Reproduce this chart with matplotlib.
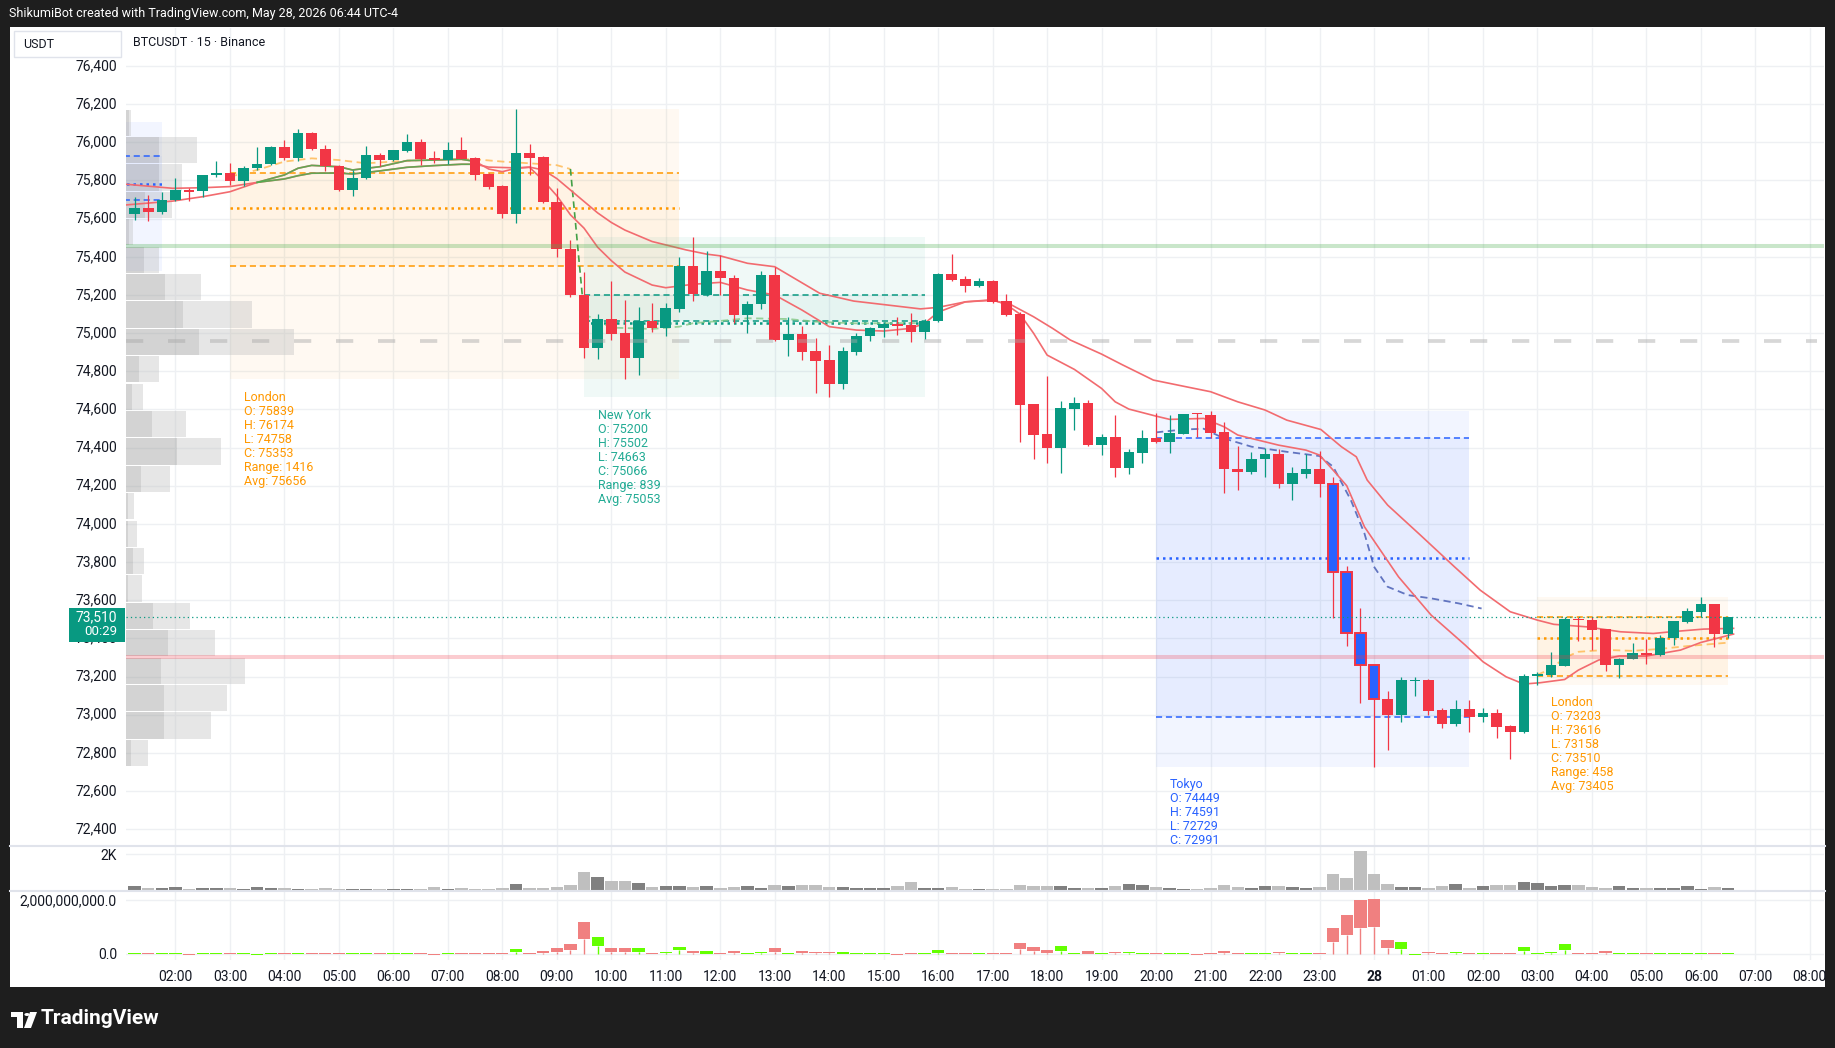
import numpy as np
import matplotlib.pyplot as plt
import matplotlib.transforms as mtransforms
from matplotlib.patches import Rectangle, Polygon, Circle
from matplotlib.lines import Line2D

plt.rcParams['font.family'] = ['Roboto', 'DejaVu Sans']

W, H = 1835, 1048

# ---- 15m candles, bar 0 = 01:15 (May 27) ... bar 117 = 06:30 (May 28)
opens = [75626, 75658, 75633, 75696, 75752, 75743, 75827, 75841, 75796, 75864,
         75884, 75977, 75916, 76050, 75966, 75877, 75752, 75811, 75935, 75909,
         75956, 76003, 75919, 75909, 75961, 75919, 75836, 75773, 75626, 75946,
         75923, 75689, 75439, 75200, 74924, 75072, 75001, 74871, 75064, 75029,
         75128, 75352, 75200, 75326, 75289, 75097, 75151, 75305, 74966, 74996,
         74906, 74859, 74735, 74903, 74985, 75025, 75046, 75043, 75008, 75065,
         75311, 75283, 75247, 75273, 75168, 75100, 74628, 74471, 74399, 74603,
         74633, 74415, 74455, 74294, 74373, 74450, 74431, 74474, 74577, 74572,
         74483, 74287, 74270, 74343, 74366, 74212, 74263, 74288, 74211, 73746,
         73426, 73259, 73081, 73000, 73179, 73182, 73025, 72953, 73028, 72990,
         73009, 72941, 72911, 73203, 73208, 73257, 73502, 73496, 73449, 73262,
         73292, 73323, 73315, 73404, 73486, 73540, 73580, 73425]
highs = [75715, 75726, 75741, 75815, 75760, 75830, 75904, 75893, 75874, 75977,
         75982, 76014, 76071, 76055, 75987, 75880, 75853, 75982, 75946, 75961,
         76045, 76019, 75956, 76003, 76029, 75922, 75840, 75778, 76176, 75993,
         75930, 75760, 75488, 75319, 75100, 75273, 75174, 75137, 75158, 75158,
         75399, 75504, 75431, 75410, 75305, 75168, 75326, 75347, 75085, 75037,
         74973, 74938, 74926, 75001, 75034, 75050, 75083, 75104, 75075, 75316,
         75414, 75300, 75290, 75280, 75205, 75112, 74630, 74775, 74644, 74663,
         74649, 74473, 74570, 74394, 74492, 74583, 74569, 74577, 74580, 74591,
         74532, 74408, 74375, 74396, 74392, 74298, 74364, 74382, 74247, 73781,
         73559, 73259, 73124, 73199, 73199, 73185, 73037, 73077, 73077, 73033,
         73030, 72946, 73212, 73222, 73329, 73510, 73510, 73510, 73452, 73300,
         73376, 73395, 73416, 73491, 73559, 73616, 73582, 73512]
lows = [75595, 75590, 75625, 75690, 75694, 75714, 75820, 75775, 75769, 75855,
        75880, 75905, 75900, 75960, 75848, 75743, 75717, 75808, 75874, 75900,
        75951, 75883, 75893, 75888, 75912, 75804, 75757, 75605, 75579, 75830,
        75680, 75401, 75190, 74871, 74866, 74966, 74761, 74781, 75004, 74987,
        75113, 75170, 75196, 75200, 75055, 75002, 75125, 74961, 74880, 74861,
        74688, 74667, 74709, 74887, 74961, 74978, 74989, 74955, 74968, 75060,
        75273, 75215, 75243, 75160, 75090, 74429, 74342, 74321, 74265, 74492,
        74410, 74363, 74247, 74263, 74317, 74422, 74370, 74470, 74457, 74448,
        74160, 74176, 74260, 74247, 74186, 74128, 74242, 74143, 73505, 73362,
        73063, 72729, 72815, 72960, 73100, 72997, 72929, 72940, 72911, 72964,
        72880, 72766, 72905, 73158, 73199, 73255, 73386, 73339, 73231, 73194,
        73290, 73264, 73310, 73365, 73483, 73510, 73353, 73400]
closes = [75658, 75633, 75700, 75752, 75741, 75830, 75841, 75796, 75867, 75888,
          75977, 75916, 76050, 75963, 75874, 75752, 75815, 75935, 75909, 75961,
          76003, 75914, 75909, 75961, 75914, 75830, 75768, 75626, 75946, 75919,
          75685, 75439, 75198, 74924, 75072, 74997, 74871, 75064, 75029, 75130,
          75352, 75203, 75326, 75287, 75097, 75151, 75305, 74964, 74996, 74903,
          74856, 74735, 74906, 74985, 75029, 75048, 75039, 75008, 75066, 75311,
          75278, 75247, 75273, 75164, 75096, 74625, 74467, 74399, 74607, 74633,
          74415, 74455, 74294, 74377, 74450, 74429, 74478, 74577, 74574, 74478,
          74286, 74270, 74343, 74366, 74212, 74266, 74288, 74211, 73746, 73426,
          73259, 73081, 73000, 73182, 73182, 73021, 72953, 73028, 72991, 73009,
          72937, 72911, 73203, 73213, 73260, 73502, 73496, 73444, 73262, 73292,
          73323, 73313, 73404, 73491, 73543, 73580, 73425, 73510]
highlight_bars = [88, 89, 90, 91]

volumes = [272, 163, 163, 218, 109, 163, 163, 163, 109, 218,
           163, 163, 109, 109, 163, 109, 109, 109, 109, 109,
           109, 109, 218, 109, 163, 109, 109, 163, 381, 163,
           163, 218, 327, 1035, 763, 545, 545, 436, 218, 272,
           272, 218, 272, 163, 218, 272, 163, 327, 272, 327,
           327, 218, 218, 163, 163, 163, 272, 490, 163, 163,
           218, 109, 109, 109, 109, 327, 272, 272, 272, 163,
           163, 163, 272, 381, 327, 218, 163, 109, 109, 163,
           327, 218, 163, 272, 272, 218, 163, 218, 926, 708,
           2179, 926, 381, 218, 218, 163, 272, 381, 163, 272,
           327, 327, 490, 436, 272, 327, 327, 218, 163, 272,
           163, 163, 163, 163, 272, 109, 218, 163]

# third pane (USD volume candles), body low / high in millions
usd_lo = [0, 0, 0, 0, -35, 0, 0, 0, 0, -35,
          0, 0, 0, 0, 0, 0, 0, 0, 0, 0,
          0, 0, -35, 0, 0, 0, 0, 0, 62, 0,
          25, 50, 137, 550, 300, 62, 62, 62, 0, 25,
          125, 25, 0, 0, 25, 0, 37, 62, 0, 37,
          25, 25, 0, 0, 0, 0, -35, 0, 0, 25,
          0, 0, 0, 0, 0, 175, 100, 37, 100, 0,
          0, 0, 25, 25, 0, 0, 0, 0, -35, 0,
          25, 0, 0, 0, 25, 0, 0, 0, 437, 700,
          962, 1012, 212, 175, -35, 25, 0, 25, 0, 0,
          0, 0, 100, 0, 25, 137, 0, 0, 25, 0,
          0, 0, 0, 0, 0, 0, 0, 0]
usd_hi = [35, 35, 35, 35, 0, 35, 35, 35, 35, 0,
          35, 35, 35, 35, 35, 35, 35, 35, 35, 35,
          35, 35, 0, 35, 35, 35, 35, 35, 187, 35,
          100, 212, 362, 1187, 625, 212, 212, 212, 35, 62,
          250, 100, 100, 35, 100, 35, 62, 212, 35, 100,
          62, 62, 62, 35, 35, 35, 0, 35, 35, 137,
          35, 35, 35, 35, 35, 400, 250, 137, 287, 35,
          100, 35, 62, 62, 35, 35, 35, 35, 0, 37,
          100, 35, 35, 35, 62, 35, 35, 35, 962, 1450,
          2012, 2050, 512, 437, 0, 62, 35, 62, 35, 35,
          35, 35, 250, 35, 62, 362, 35, 35, 100, 35,
          35, 35, 35, 35, 35, 35, 35, 35]

# moving averages read at sample bars
ema_fast_bar = [-0.6, 2.8, 5, 7, 9, 11, 12, 13, 15, 16, 18, 20, 22, 24, 25, 26, 27, 28, 29,
                30, 31, 32, 33, 34, 35, 36, 38, 39, 41, 43, 45, 47, 49, 51, 53, 55, 57, 58,
                59, 61, 63, 64, 65, 66, 67, 69, 71, 72, 73, 75, 76, 78.5, 80, 81, 82, 84,
                86, 87, 88, 89, 90.3, 92.8, 95.2, 97.7, 99, 100.7, 102, 103.2, 105, 106,
                107.5, 109, 111, 113.5, 115, 117.4]
ema_fast_val = [75672, 75692, 75715, 75741, 75790, 75829, 75864, 75879, 75872, 75855, 75872,
                75904, 75907, 75911, 75900, 75860, 75846, 75864, 75869, 75800, 75720, 75620,
                75550, 75450, 75380, 75320, 75252, 75238, 75256, 75266, 75226, 75200, 75121,
                75034, 75016, 75011, 75025, 75051, 75110, 75164, 75175, 75150, 75100, 75000,
                74885, 74810, 74710, 74640, 74602, 74565, 74548, 74553, 74509, 74466, 74448,
                74413, 74387, 74361, 74282, 74200, 73985, 73723, 73522, 73365, 73278, 73199,
                73161, 73168, 73185, 73234, 73287, 73308, 73308, 73339, 73379, 73423]
ema_slow_bar = [-0.6, 2.8, 5, 7, 9, 11, 12, 13, 15, 16, 18, 20, 22, 24, 25, 26, 28, 29, 30,
                31, 32, 33, 34, 35, 36, 38, 40.5, 42, 43, 45, 47, 50.3, 52.8, 55.2, 57.7, 59,
                61, 63, 64.4, 66, 67.4, 68.7, 71, 72.5, 74.8, 77.2, 79, 81, 83, 84.6, 87.1,
                88.6, 89.7, 90.5, 92, 94.4, 96.9, 98.8, 101, 103, 104.2, 106.6, 109.1, 111.5,
                112.8, 115.2, 117.4]
ema_slow_val = [75780, 75759, 75762, 75768, 75790, 75808, 75825, 75838, 75839, 75834, 75850,
                75869, 75878, 75885, 75885, 75870, 75866, 75870, 75855, 75810, 75750, 75690,
                75630, 75580, 75540, 75480, 75436, 75414, 75405, 75366, 75348, 75209, 75168,
                75148, 75127, 75135, 75164, 75172, 75147, 75086, 75025, 74964, 74890, 74835,
                74754, 74719, 74693, 74640, 74597, 74544, 74495, 74405, 74352, 74230, 74099,
                73942, 73776, 73653, 73540, 73496, 73474, 73461, 73435, 73426, 73435, 73449,
                73453]
ema_green_from, ema_green_to = 8.9, 25.7

# session running average (dashed curves)
vwap_lon1_bar = [7, 9, 11, 13, 15, 17, 19, 21, 23, 25, 27, 29, 31, 32]
vwap_lon1_val = [75820, 75855, 75899, 75916, 75907, 75890, 75899, 75907, 75911, 75911,
                 75899, 75890, 75880, 75860]
vwap_ny_bar = [32, 33, 35, 38, 40, 41, 43, 45, 48, 50, 53, 58]
vwap_ny_val = [75860, 75100, 75029, 75022, 75034, 75052, 75064, 75078, 75074, 75060,
               75051, 75053]
vwap_tok_bar = [75, 77, 78.5, 80, 82, 84.6, 87, 88, 89.3, 90.3, 91, 92, 93.5, 95.2, 97.2, 98.9]
vwap_tok_val = [74480, 74495, 74499, 74448, 74405, 74378, 74356, 74300, 74125, 73950,
                73776, 73671, 73627, 73610, 73584, 73557]
vwap_lon2_bar = [103, 104, 105, 106, 108, 110, 112, 114, 117]
vwap_lon2_val = [73210, 73240, 73300, 73330, 73340, 73335, 73345, 73360, 73378]

# sessions: name, first bar, last bar, open, high, low, close, avg
sessions = [
    ('London', 7, 40, 75839, 76174, 74758, 75353, 75656, '#ff9800', True),
    ('New York', 33, 58, 75200, 75502, 74663, 75066, 75053, '#089981', True),
    ('Tokyo', 75, 98, 74449, 74591, 72729, 72991, 73822, '#2962ff', True),
    ('London', 103, 117, 73203, 73616, 73158, 73510, 73405, '#ff9800', True),
    ('Tokyo', -3, 2, 75927, 76109, 75323, 75696, 75782, '#2962ff', False),
]
session_alpha = {'#ff9800': (0.05, 0.055), '#089981': (0.06, 0.045), '#2962ff': (0.06, 0.055)}
session_text_color = {'#ff9800': '#ff9800', '#089981': '#22ab94', '#2962ff': '#2962ff'}

# visible range volume profile, 24 rows top -> bottom
vp_total = [4.5, 70.7, 55.7, 45.7, 6.7, 33, 75, 125.8, 168, 33, 16.8, 60,
            95, 44, 8, 11, 18, 16, 64, 89, 119, 100.8, 85, 22]
vp_dark = [3, 33, 33, 19, 3.3, 18, 39, 57, 73, 12.8, 6, 25.8,
           50.8, 15, 2, 2, 7, 2, 27, 41.8, 35, 37.8, 37.8, 4.8]
vp_low, vp_high = 72729, 76174

# horizontal levels
level_green = 75455
level_pink = 73305
level_gray = 74960
last_price = 73510

price_ticks = list(range(72400, 76401, 200))
hour_ticks = [3 + 4 * k for k in range(31)]
hour_labels = [f'{h:02d}:00' for h in range(2, 24)] + ['28'] + [f'{h:02d}:00' for h in range(1, 9)]

UP, DOWN = '#089981', '#f23645'
TXT = '#131722'
GRID = '#eef0f3'


def fx(px):
    return px / W


def fy(py):
    return 1 - py / H


fig = plt.figure(figsize=(W / 100, H / 100), dpi=100, facecolor='#1e1e1e')
fig.add_artist(Rectangle((fx(10), fy(987)), fx(1825) - fx(10), (987 - 27) / H,
                         transform=fig.transFigure, fc='white', ec='none', zorder=-10))

x0, x1 = -0.631, 124.04
aw = fx(1824) - fx(126)
ax1 = fig.add_axes([fx(126), fy(846), aw, (846 - 28) / H])
ax2 = fig.add_axes([fx(126), fy(891), aw, 45 / H])
ax3 = fig.add_axes([fx(126), fy(960), aw, 69 / H])

for a in (ax1, ax2, ax3):
    a.set_xlim(x0, x1)
    a.set_facecolor('none')
    for s in a.spines.values():
        s.set_visible(False)
    a.set_xticks(hour_ticks)
    a.grid(True, color=GRID, lw=1.0, zorder=0)
    a.set_axisbelow(True)
    a.tick_params(length=0, labelsize=10, colors=TXT, pad=6.5)
    a.tick_params(axis='x', labelbottom=False)

ax1.set_ylim(72312.4, 76599)
ax1.set_yticks(price_ticks, [f'{p:,}' for p in price_ticks])
# price labels sit slightly above their grid lines
lift = mtransforms.ScaledTranslation(0, 1.5 / 100, fig.dpi_scale_trans)
for lab in ax1.get_yticklabels():
    lab.set_transform(lab.get_transform() + lift)
ax2.set_ylim(0, 2452)
ax2.set_yticks([2000], ['2K'])
ax3.set_ylim(-0.236e9, 2.348e9)
ax3.set_yticks([0, 2e9], ['0.0', '2,000,000,000.0'])
ax3.tick_params(axis='x', labelbottom=True, pad=7, labelsize=10)
ax3.set_xticklabels(hour_labels)
for lab in ax3.get_xticklabels():
    if lab.get_text() == '28':
        lab.set_fontweight('bold')

o = np.array(opens, float)
h = np.array(highs, float)
l = np.array(lows, float)
c = np.array(closes, float)
n = len(o)
x = np.arange(n)
up = c >= o

# ---- sessions
for name, j0, j1, so, sh, sl, sc, savg, col, labelled in sessions:
    a1, a2 = session_alpha[col]
    ax1.add_patch(Rectangle((j0, sl), j1 - j0, sh - sl, fc=col, alpha=a1, lw=0, zorder=1))
    ax1.add_patch(Rectangle((j0, min(so, sc)), j1 - j0, abs(sc - so), fc=col, alpha=a2,
                            lw=0, zorder=1))
    ax1.hlines([so, sc], j0, j1, colors=col, lw=1.1, ls=(0, (4, 2.5)), zorder=3)
    ax1.hlines(savg, j0, j1, colors=col, lw=1.8, ls=(0, (1, 1.6)), zorder=3)
    if labelled:
        lines = [name, f'O: {so}', f'H: {sh}', f'L: {sl}', f'C: {sc}',
                 f'Range: {sh - sl}', f'Avg: {savg}']
        for k, s in enumerate(lines):
            tr = mtransforms.offset_copy(ax1.transData, fig=fig, x=14, y=-(18 + 14 * k),
                                         units='dots')
            ax1.text(j0, sl, s, transform=tr, color=session_text_color[col], fontsize=9,
                     ha='left', va='center', clip_on=True, zorder=7)

# ---- volume profile (x in axes fraction)
vtr = ax1.get_yaxis_transform()
edges = np.linspace(vp_high, vp_low, len(vp_total) + 1)
vmax = max(vp_total)
for i in range(len(vp_total)):
    top, bot = edges[i], edges[i + 1]
    wd = vp_dark[i] / vmax * 0.099
    wt = vp_total[i] / vmax * 0.099
    ax1.add_patch(Rectangle((0, bot + 3), wd, top - bot - 6, transform=vtr,
                            fc='#9e9e9e', alpha=0.45, lw=0, zorder=2))
    ax1.add_patch(Rectangle((wd, bot + 3), wt - wd, top - bot - 6, transform=vtr,
                            fc='#c4c4c4', alpha=0.42, lw=0, zorder=2))

# ---- running averages
ax1.plot(vwap_lon1_bar, vwap_lon1_val, color='#ffb74d', lw=1.3, ls=(0, (4, 2.5)), alpha=0.8, zorder=3)
ax1.plot(vwap_ny_bar[:2], vwap_ny_val[:2], color='#43a047', lw=1.2, ls=(0, (4, 2.5)), zorder=3)
ax1.plot(vwap_ny_bar[1:], vwap_ny_val[1:], color='#81c784', lw=1.3, ls=(0, (4, 2.5)), alpha=0.8, zorder=3)
ax1.plot(vwap_tok_bar, vwap_tok_val, color='#4a5fb5', lw=1.3, ls=(0, (4, 2.5)), alpha=0.85, zorder=3)
ax1.plot(vwap_lon2_bar, vwap_lon2_val, color='#ffb74d', lw=1.3, ls=(0, (4, 2.5)), alpha=0.8, zorder=3)

# ---- moving averages
for bars, vals in ((ema_fast_bar, ema_fast_val), (ema_slow_bar, ema_slow_val)):
    bars = np.array(bars)
    vals = np.array(vals)
    ax1.plot(bars, vals, color='#f26b6f', lw=1.2, zorder=3.5)
    m = (bars >= ema_green_from) & (bars <= ema_green_to)
    ax1.plot(bars[m], vals[m], color='#4caf50', lw=1.2, alpha=0.85, zorder=3.6)

# ---- candles
body_col = np.where(up, UP, DOWN).astype(object)
edge_col = body_col.copy()
lwidths = np.zeros(n)
for j in highlight_bars:
    body_col[j] = '#2962ff'
    lwidths[j] = 1.4
ax1.vlines(x, l, h, colors=np.where(up, UP, DOWN), lw=0.9, zorder=4)
ax1.bar(x, np.maximum(np.abs(c - o), 5), bottom=np.minimum(o, c), width=0.78,
        color=list(body_col), edgecolor=list(edge_col), linewidth=lwidths, zorder=5)

# ---- horizontal levels
ax1.axhline(level_green, color='#4caf50', alpha=0.3, lw=2.9, zorder=6)
ax1.axhline(level_pink, color='#f23645', alpha=0.25, lw=2.9, zorder=6)
ax1.hlines(level_gray, x0, 123.5, color='#a8a8a8', alpha=0.45, lw=2.7, ls=(0, (4.6, 6.6)), zorder=6)
ax1.axhline(last_price, color=UP, lw=0.9, ls=(0, (1, 2.5)), zorder=6)

# ---- volume pane
ax2.bar(x, volumes, width=0.92, color=np.where(up, '#808080', '#bfbfbf'), zorder=2)

# ---- usd volume pane
lo3 = np.array(usd_lo, float) * 1e6
hi3 = np.array(usd_hi, float) * 1e6
col3 = np.where(up, '#64ff00', '#f08080')
wk = lo3 > 0
ax3.vlines(x[wk], 0, lo3[wk], colors=col3[wk], lw=1.0, zorder=2)
ax3.bar(x, hi3 - lo3, bottom=lo3, width=0.9, color=col3, zorder=3)

# ---- frame, header, price tag
for yy in (846, 891):
    fig.add_artist(Line2D([fx(10), fx(1825)], [fy(yy), fy(yy)], transform=fig.transFigure,
                          color='#e0e3eb', lw=1.5, zorder=3))
fig.text(fx(9), fy(14), 'ShikumiBot created with TradingView.com, May 28, 2026 06:44 UTC-4',
         color='white', fontsize=9, va='center', ha='left')
fig.add_artist(Rectangle((fx(14), fy(57)), fx(121) - fx(14), 26 / H, transform=fig.transFigure,
                         fc='white', ec='#e0e3eb', lw=1, zorder=8))
fig.text(fx(23), fy(44), 'USDT', color=TXT, fontsize=9, va='center', ha='left', zorder=9)
fig.text(fx(133), fy(42), 'BTCUSDT · 15 · Binance', color=TXT, fontsize=9, va='center',
         ha='left', zorder=9)

fig.add_artist(Rectangle((fx(69), fy(642)), fx(125) - fx(69), 34 / H,
                         transform=fig.transFigure, fc=UP, ec='none', zorder=10))
fig.text(fx(117), fy(617), f'{last_price:,}', color='white', fontsize=10, ha='right',
         va='center', zorder=11)
fig.text(fx(117), fy(631.5), '00:29', color='white', fontsize=9.5, ha='right', va='center',
         zorder=11)

# TradingView logo
logo = [
    Rectangle((fx(11), fy(1017)), fx(23) - fx(11), 5 / H),
    Rectangle((fx(17), fy(1028)), fx(23) - fx(17), 16 / H),
    Polygon([(fx(30), fy(1012)), (fx(37), fy(1012)), (fx(31), fy(1028)), (fx(24), fy(1028))]),
]
for p in logo:
    p.set_transform(fig.transFigure)
    p.set_facecolor('white')
    p.set_edgecolor('none')
    fig.add_artist(p)
fig.add_artist(Circle((fx(27), fy(1014.5)), 2.6 / W, transform=fig.transFigure, fc='white'))
fig.text(fx(41), fy(1019), 'TradingView', color='white', fontsize=15, fontweight='bold',
         va='center', ha='left')

fig.savefig('out.png', dpi=100, facecolor=fig.get_facecolor())
